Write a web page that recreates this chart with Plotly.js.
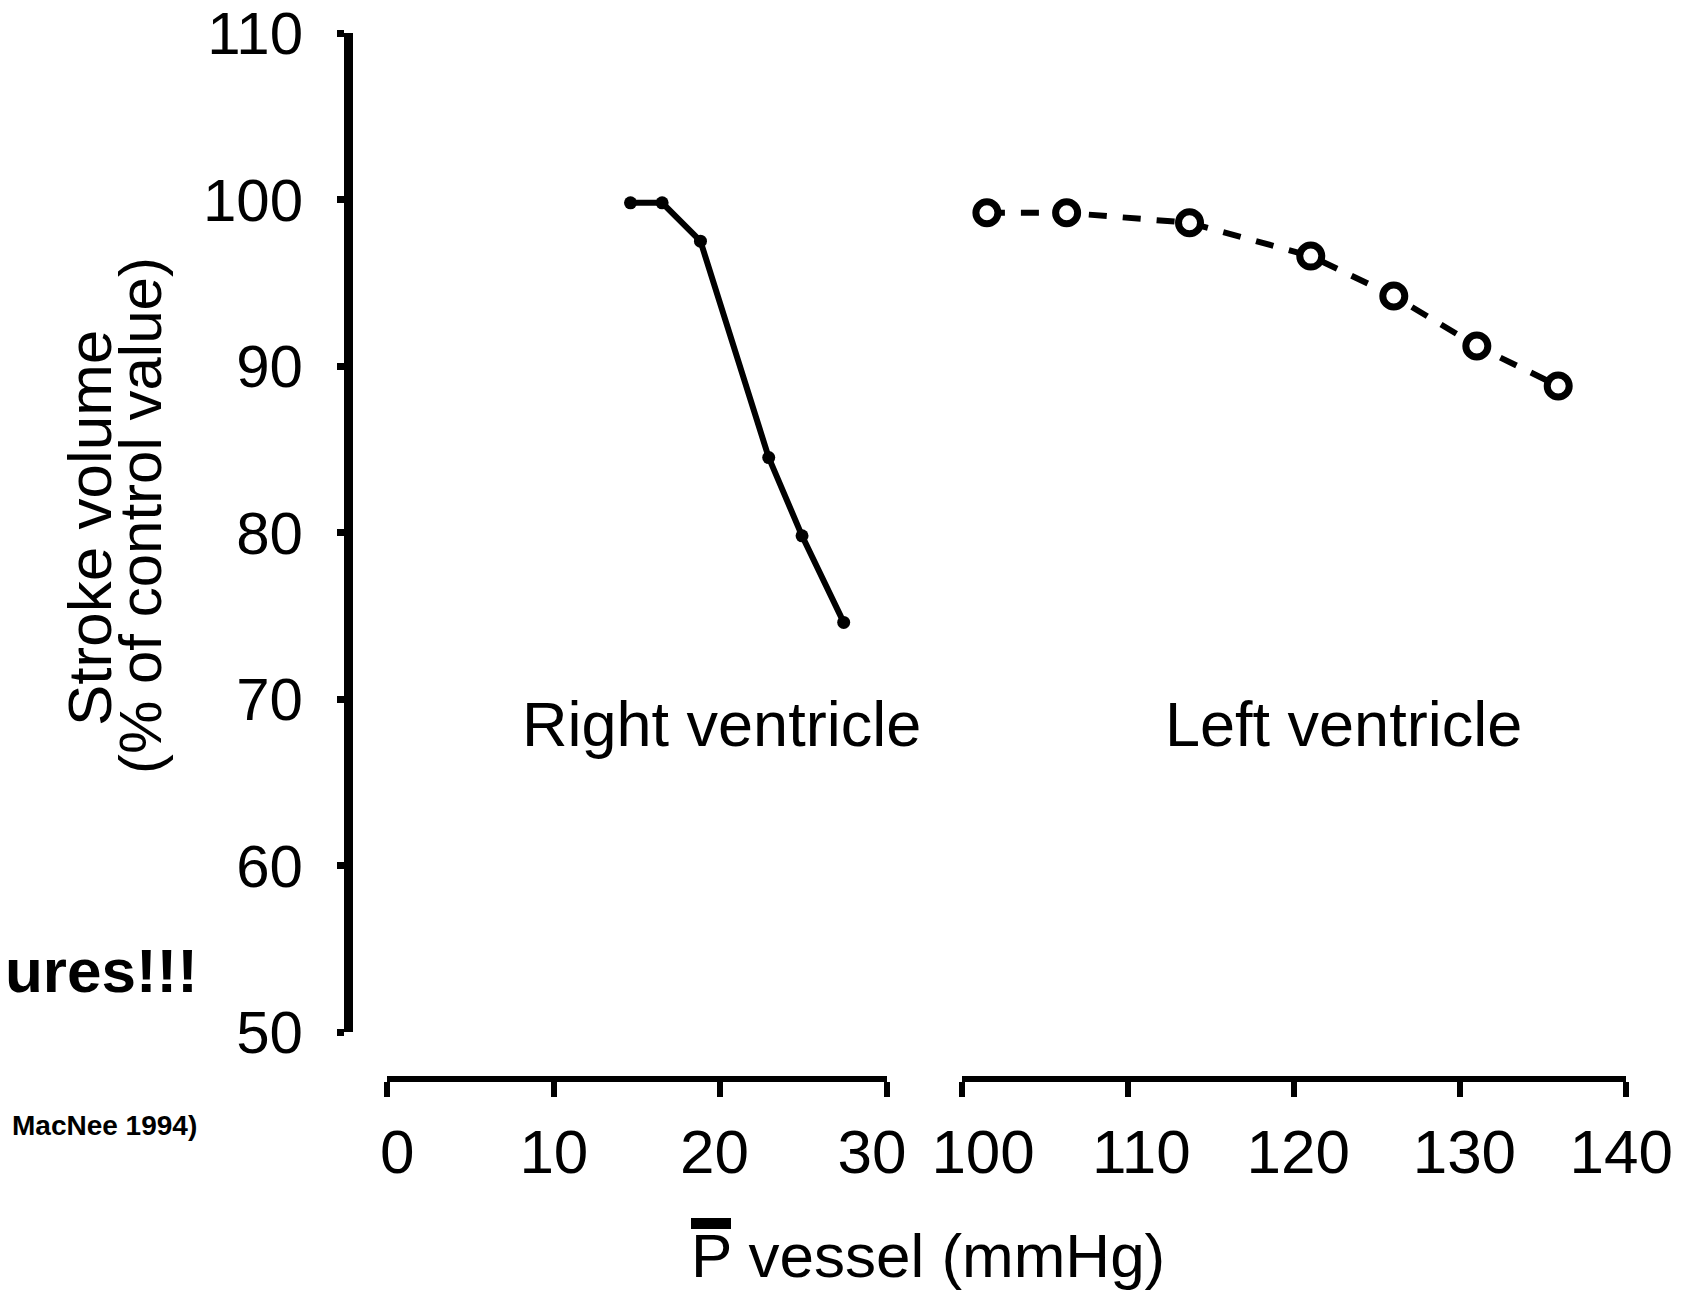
<!DOCTYPE html>
<html>
<head>
<meta charset="utf-8">
<script src="https://cdn.plot.ly/plotly-3.0.1.min.js"></script>
<style>html,body{margin:0;padding:0;background:#fff;}#chart{width:1700px;height:1293px;}</style>
</head>
<body>
<div id="chart"></div>
<script>
// ---- data ----
const rvPressure = [14.6, 16.5, 18.8, 22.9, 24.9, 27.4];
const rvStroke   = [99.8, 99.8, 97.5, 84.5, 79.8, 74.6];
const lvPressure = [101.5, 106.3, 113.7, 121.0, 126.0, 131.0, 135.9];
const lvStroke   = [99.2, 99.2, 98.6, 96.6, 94.2, 91.2, 88.8];

const yTickVals  = [50, 60, 70, 80, 90, 100, 110];
const yTickText  = ['50', '60', '70', '80', '90', '100', '110'];
const rvTickVals = [0, 10, 20, 30];
const rvTickText = ['0', '10', '20', '30'];
const lvTickVals = [100, 110, 120, 130, 140];
const lvTickText = ['100', '110', '120', '130', '140'];

const yTitle1 = 'Stroke volume';
const yTitle2 = '(% of control value)';
const xTitle  = 'P vessel (mmHg)';
const rvLabel = 'Right ventricle';
const lvLabel = 'Left ventricle';
const sideText1 = 'ures!!!';
const sideText2 = 'MacNee 1994)';

// ---- style: where the tick labels sit along each axis (labels are not exactly centred on ticks in the original) ----
const rvLabelAt = [0.6, 10, 19.65, 29.1];
const lvLabelAt = [101.27, 110.8, 120.25, 130.25, 139.7];

// ---- layout geometry ----
const FW = 1700, FH = 1293;
const M = {l: 348, r: 30, t: 33, b: 214};
const PW = FW - M.l - M.r, PH = FH - M.t - M.b;
const px = x => (x - M.l) / PW;
const py = y => (FH - M.b - y) / PH;
const FONT = 'Liberation Sans, Arial, Helvetica, sans-serif';

// pixel extents of the two pressure axes
const rvPx = [387.3, 887], rvRange = [0, 30];
const lvPx = [962, 1626.3], lvRange = [100, 140];
function widened(pxs, rng, pad) {
  const s = (pxs[1] - pxs[0]) / (rng[1] - rng[0]);
  return {domain: [px(pxs[0] - pad * s), px(pxs[1] + pad * s)], range: [rng[0] - pad, rng[1] + pad]};
}
const rvLab = widened(rvPx, rvRange, 2);
const lvLab = widened(lvPx, lvRange, 2);

const traces = [
  // empty carriers so the tick-label axes are laid out
  {x: [], y: [], xaxis: 'x3', yaxis: 'y', type: 'scatter', mode: 'markers', showlegend: false, hoverinfo: 'skip'},
  {x: [], y: [], xaxis: 'x4', yaxis: 'y', type: 'scatter', mode: 'markers', showlegend: false, hoverinfo: 'skip'},
  {
    x: rvPressure, y: rvStroke, xaxis: 'x', yaxis: 'y',
    type: 'scatter', mode: 'lines+markers', cliponaxis: false,
    line: {color: '#000', width: 6},
    marker: {color: '#000', size: 13},
    showlegend: false, hoverinfo: 'x+y'
  },
  {
    x: lvPressure, y: lvStroke, xaxis: 'x2', yaxis: 'y',
    type: 'scatter', mode: 'lines+markers', cliponaxis: false,
    line: {color: '#000', width: 6, dash: '18px,16px'},
    marker: {symbol: 'circle', color: '#fff', size: 22, line: {color: '#000', width: 7}},
    showlegend: false, hoverinfo: 'x+y'
  }
];

const xLine = {
  anchor: 'free', position: 0,
  showgrid: false, zeroline: false,
  showline: true, linecolor: '#000', linewidth: 6,
  ticks: 'outside', ticklen: 15, tickwidth: 6, tickcolor: '#000',
  showticklabels: false, fixedrange: true
};
const xLabels = {
  anchor: 'free', position: 0,
  showgrid: false, zeroline: false, showline: false,
  ticks: '', tickmode: 'array',
  tickfont: {family: FONT, size: 62, color: '#000'},
  ticklabelstandoff: 31, fixedrange: true
};

const layout = {
  width: FW, height: FH, autosize: false,
  margin: M,
  paper_bgcolor: '#fff', plot_bgcolor: 'rgba(0,0,0,0)',
  font: {family: FONT, color: '#000'},
  showlegend: false,
  xaxis: Object.assign({}, xLine, {
    domain: [px(rvPx[0]), px(rvPx[1])], range: rvRange,
    tickmode: 'array', tickvals: rvTickVals
  }),
  xaxis2: Object.assign({}, xLine, {
    domain: [px(lvPx[0]), px(lvPx[1])], range: lvRange,
    tickmode: 'array', tickvals: lvTickVals
  }),
  xaxis3: Object.assign({}, xLabels, {
    domain: rvLab.domain, range: rvLab.range,
    tickvals: rvLabelAt, ticktext: rvTickText
  }),
  xaxis4: Object.assign({}, xLabels, {
    domain: lvLab.domain, range: lvLab.range,
    tickvals: lvLabelAt, ticktext: lvTickText
  }),
  yaxis: {
    anchor: 'free', position: 0,
    domain: [py(1032), 1], range: [50, 110],
    showgrid: false, zeroline: false,
    showline: true, linecolor: '#000', linewidth: 9,
    ticks: 'outside', ticklen: 7, tickwidth: 7, tickcolor: '#000',
    tickmode: 'array', tickvals: yTickVals, ticktext: yTickText,
    tickfont: {family: FONT, size: 60, color: '#000'},
    ticklabelstandoff: 22,
    fixedrange: true
  },
  yaxis2: {
    overlaying: 'y', anchor: 'free', position: 0,
    range: [50, 110],
    showgrid: false, zeroline: false, showline: false,
    ticks: 'inside', ticklen: 12, tickwidth: 7, tickcolor: '#000',
    tickmode: 'array', tickvals: yTickVals,
    showticklabels: false, fixedrange: true
  },
  shapes: [
    // overline bar above the P of the axis title
    {type: 'rect', xref: 'paper', yref: 'paper',
     x0: px(691), x1: px(731), y0: py(1229), y1: py(1218),
     fillcolor: '#000', line: {width: 0}}
  ],
  annotations: [
    {text: rvLabel, xref: 'x', yref: 'y', x: 20.07, y: 68.5,
     showarrow: false, xanchor: 'center', yanchor: 'middle',
     font: {family: FONT, size: 63, color: '#000'}},
    {text: lvLabel, xref: 'x2', yref: 'y', x: 122.95, y: 68.5,
     showarrow: false, xanchor: 'center', yanchor: 'middle',
     font: {family: FONT, size: 63, color: '#000'}},
    {text: yTitle1, xref: 'paper', yref: 'paper', x: px(89), y: py(528),
     textangle: -90, showarrow: false, xanchor: 'center', yanchor: 'middle',
     font: {family: FONT, size: 62, color: '#000'}},
    {text: yTitle2, xref: 'paper', yref: 'paper', x: px(140), y: py(516),
     textangle: -90, showarrow: false, xanchor: 'center', yanchor: 'middle',
     font: {family: FONT, size: 60, color: '#000'}},
    {text: xTitle, xref: 'paper', yref: 'paper', x: px(928), y: py(1255),
     showarrow: false, xanchor: 'center', yanchor: 'middle',
     font: {family: FONT, size: 62, color: '#000'}},
    {text: '<b>' + sideText1 + '</b>', xref: 'paper', yref: 'paper', x: px(200), y: py(970),
     showarrow: false, xanchor: 'right', yanchor: 'middle',
     font: {family: FONT, size: 62, color: '#000'}},
    {text: '<b>' + sideText2 + '</b>', xref: 'paper', yref: 'paper', x: px(199), y: py(1125),
     showarrow: false, xanchor: 'right', yanchor: 'middle',
     font: {family: FONT, size: 28, color: '#000'}}
  ]
};

Plotly.newPlot('chart', traces, layout, {displayModeBar: false, staticPlot: true});
</script>
</body>
</html>
